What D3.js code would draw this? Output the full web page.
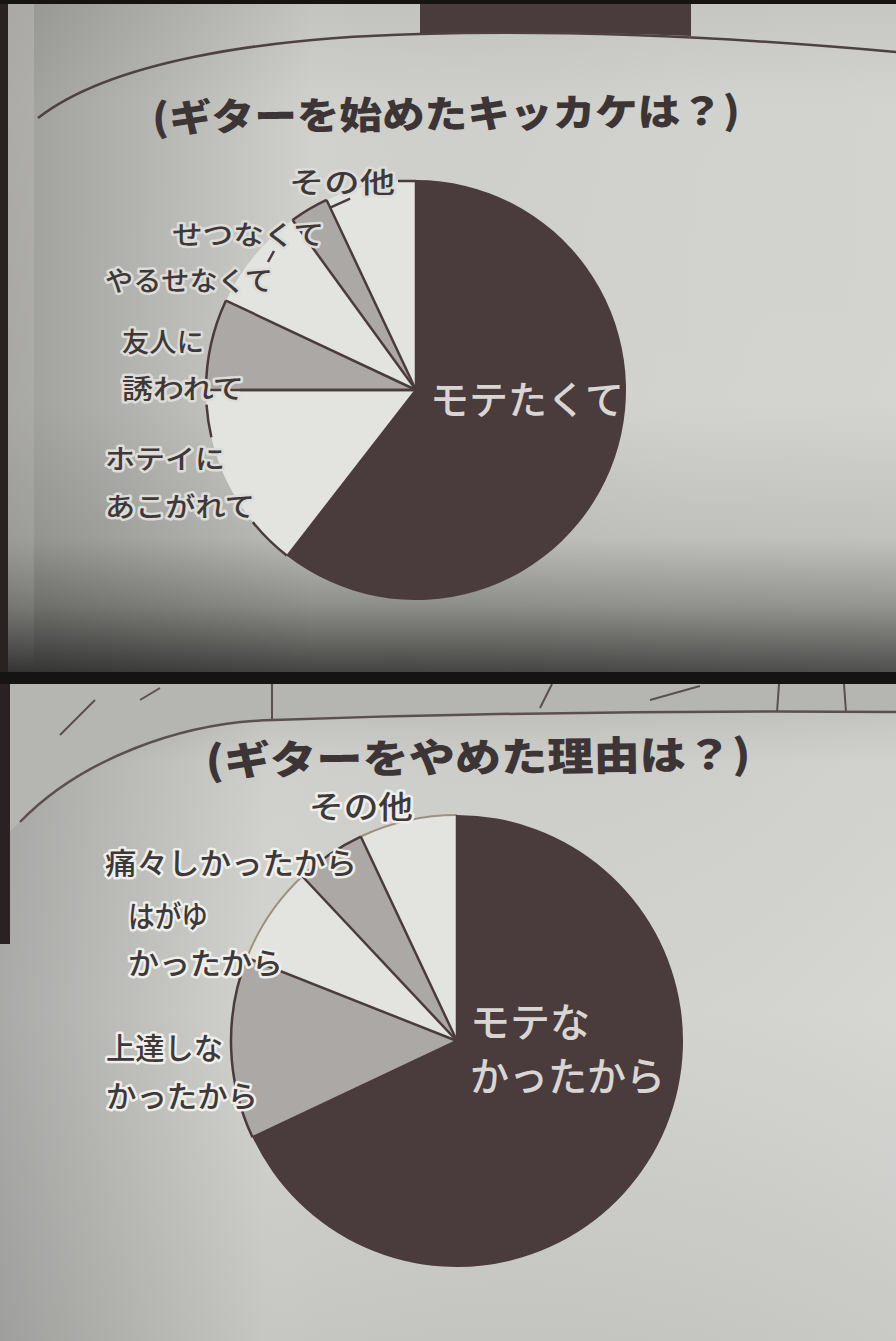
<!DOCTYPE html>
<html><head><meta charset="utf-8">
<script src="https://cdn.jsdelivr.net/npm/d3@7"></script>
<style>html,body{margin:0;padding:0;background:#111;}svg{display:block}</style>
</head><body>
<script>
// ---- data ----
const startTitle = "(ギターを始めたキッカケは？)";
const startCategories = ["モテたくて","ホテイにあこがれて","友人に誘われて","やるせなくて","せつなくて","その他"];
const startValues = [60.5, 14.5, 7, 8, 3, 7];
const startTones = ["dark","light","gray","light","gray","light"];

const quitTitle = "(ギターをやめた理由は？)";
const quitCategories = ["モテなかったから","上達しなかったから","はがゆかったから","痛々しかったから","その他"];
const quitValues = [68, 13, 7, 5, 7];
const quitTones = ["dark","gray","light","gray","light"];

// ---- styles ----
const W = 896, H = 1341;
const FONT = "'Noto Sans CJK JP','Noto Sans',sans-serif";
const fills = {dark:"#4a3b3c", gray:"#aba8a6", light:"#e3e4e0"};
const ink = "#3d3535";

const svg = d3.select("body").append("svg").attr("width",W).attr("height",H);
const defs = svg.append("defs");
function lg(id, x2, y2, stops){
  const g = defs.append("linearGradient").attr("id",id).attr("x1",0).attr("y1",0).attr("x2",x2).attr("y2",y2);
  stops.forEach(s=>g.append("stop").attr("offset",s[0]).attr("stop-color",s[1]).attr("stop-opacity",s[2]===undefined?1:s[2]));
}
lg("topPaper",0,1,[[0,"#c3c3bf"],[0.15,"#d0d0cc"],[0.6,"#d1d1cd"],[0.8,"#bdbdb9"],[0.9,"#8e8e8a"],[1,"#444442"]]);
lg("topSide",1,0,[[0,"#000",0.25],[0.35,"#000",0],[0.75,"#fff",0.03],[1,"#fff",0.06]]);
lg("botPaper",0,1,[[0,"#b9b9b5"],[0.12,"#cfd0cc"],[0.5,"#d4d5d1"],[1,"#c6c7c3"]]);
lg("botSide",1,0,[[0,"#000",0.2],[0.3,"#000",0],[1,"#fff",0.05]]);
lg("edge",0,1,[[0,"#b8b7b3",0.6],[0.8,"#b8b7b3",0.3],[1,"#b8b7b3",0]]);

// ---- photo backgrounds ----
svg.append("rect").attr("width",W).attr("height",H).attr("fill","#151312");
svg.append("rect").attr("x",0).attr("y",4).attr("width",W).attr("height",668).attr("fill","url(#topPaper)");
svg.append("rect").attr("x",0).attr("y",4).attr("width",W).attr("height",668).attr("fill","url(#topSide)");
svg.append("rect").attr("x",0).attr("y",4).attr("width",8).attr("height",668).attr("fill","#2a2121");
svg.append("rect").attr("x",8).attr("y",4).attr("width",26).attr("height",668).attr("fill","url(#edge)");
svg.append("path").attr("d","M420,4 L420,34 Q555,30 691,36 L691,4 Z").attr("fill","#4a3b3c");
svg.append("path").attr("d","M38,118 C110,62 260,38 420,34 C560,30 720,36 896,52")
  .attr("fill","none").attr("stroke","#4d4242").attr("stroke-width",2.5);
svg.append("rect").attr("x",0).attr("y",684).attr("width",W).attr("height",657).attr("fill","url(#botPaper)");
svg.append("rect").attr("x",0).attr("y",684).attr("width",W).attr("height",657).attr("fill","url(#botSide)");
svg.append("path").attr("d","M0,684 L0,840 L20,822 C80,760 180,722 274,720 C450,714 650,710 896,712 L896,684 Z")
  .attr("fill","#b5b5b1");
svg.append("path").attr("d","M20,822 C80,760 180,722 274,720 C450,714 650,710 896,712")
  .attr("fill","none").attr("stroke","#5a5050").attr("stroke-width",2.5);
svg.append("path").attr("d","M272,684 L272,720 M540,708 L552,684 M650,700 L700,686 M777,712 L779,684 M846,712 L844,684 M60,735 L95,700 M140,700 L160,688")
  .attr("fill","none").attr("stroke","#5a5050").attr("stroke-width",2);
svg.append("rect").attr("x",0).attr("y",684).attr("width",10).attr("height",260).attr("fill","#2a2222");

// ---- titles ----
svg.append("text").attr("x",446).attr("y",128).attr("text-anchor","middle")
  .attr("transform","rotate(-0.7 446 118)")
  .attr("font-family",FONT).attr("font-weight",900).attr("font-size",38)
  .attr("fill",ink).attr("textLength",588).attr("lengthAdjust","spacingAndGlyphs").text(startTitle);
svg.append("text").attr("x",478).attr("y",772).attr("text-anchor","middle")
  .attr("transform","rotate(-0.7 478 758)")
  .attr("font-family",FONT).attr("font-weight",900).attr("font-size",40)
  .attr("fill",ink).attr("textLength",545).attr("lengthAdjust","spacingAndGlyphs").text(quitTitle);

// ---- pies ----
const toRad = d=>d*Math.PI/180;
function pt(r,a){return [r*Math.sin(a), -r*Math.cos(a)];}
function arcPath(r,a0,a1){const p=d3.path();const s=pt(r,a0);p.moveTo(s[0],s[1]);p.arc(0,0,r,a0-Math.PI/2,a1-Math.PI/2);return p.toString();}

function drawPie(cfg){
  const data = cfg.cats.map((c,i)=>({c, v:cfg.vals[i], t:cfg.tones[i]}));
  const arcs = d3.pie().sort(null).value(d=>d.v).startAngle(0).endAngle(2*Math.PI)(data);
  const g = svg.append("g").attr("transform",`translate(${cfg.cx},${cfg.cy})`);
  const arcGen = d3.arc().innerRadius(0).outerRadius(cfg.r);
  g.selectAll("path.slice").data(arcs).join("path").attr("class","slice")
    .attr("d",arcGen).attr("fill",d=>fills[d.data.t]);
  if(cfg.lightArc){
    g.selectAll("path.larc").data(arcs.filter(d=>d.data.t==="light")).join("path").attr("class","larc")
      .attr("d",d=>arcPath(cfg.r,d.startAngle,d.endAngle))
      .attr("fill","none").attr("stroke",cfg.lightArc).attr("stroke-width",2);
  }
  g.selectAll("path.garc").data(arcs.filter(d=>d.data.t==="gray")).join("path").attr("class","garc")
    .attr("d",d=>arcPath(cfg.r,d.startAngle,d.endAngle))
    .attr("fill","none").attr("stroke",fills.dark).attr("stroke-width",2.5);
  g.selectAll("line.rad").data(arcs).join("line").attr("class","rad")
    .attr("x1",0).attr("y1",0)
    .attr("x2",d=>pt(cfg.r,d.startAngle)[0]).attr("y2",d=>pt(cfg.r,d.startAngle)[1])
    .attr("stroke",fills.dark).attr("stroke-width",2.5);
  return {g, arcs};
}

function label(g, lines, widths, x, y, size, lh, color, halo, anchor){
  const t = g.append("g").attr("font-family",FONT).attr("font-weight",500).attr("font-size",size)
    .attr("fill",color).attr("text-anchor",anchor||"start");
  lines.forEach((l,i)=>{
    const tx = t.append("text").attr("x",x).attr("y",y+i*lh).text(l);
    if(widths && widths[i]) tx.attr("textLength",widths[i]).attr("lengthAdjust","spacingAndGlyphs");
    if(halo){tx.attr("stroke",halo).attr("stroke-width",5).attr("stroke-linejoin","round").attr("paint-order","stroke");}
  });
}

const TR = 210;
const topPie = drawPie({cats:startCategories, vals:startValues, tones:startTones, cx:416, cy:390, r:TR, lightArc:null});
{
  const g = topPie.g, r = TR, a = topPie.arcs;
  g.append("path").attr("d",arcPath(r,toRad(218),toRad(231))).attr("fill","none").attr("stroke",fills.dark).attr("stroke-width",2.5);
  g.append("path").attr("d",arcPath(r,toRad(257),toRad(266))).attr("fill","none").attr("stroke",fills.dark).attr("stroke-width",2.5);
  g.append("line").attr("x1",-18).attr("y1",-r+1).attr("x2",0).attr("y2",-r+1).attr("stroke",fills.dark).attr("stroke-width",2.5);
  g.append("line").attr("x1",0).attr("y1",0).attr("x2",-176).attr("y2",0).attr("stroke",fills.dark).attr("stroke-width",2.5);
  const p1 = pt(r*0.96, a[4].endAngle);
  g.append("line").attr("x1",p1[0]).attr("y1",p1[1]).attr("x2",p1[0]+20).attr("y2",p1[1]-9).attr("stroke",fills.dark).attr("stroke-width",2.5);
  g.append("line").attr("x1",-148).attr("y1",-128).attr("x2",-142).attr("y2",-139).attr("stroke",fills.dark).attr("stroke-width",2.5);
}
{
  const tg = svg.append("g");
  const c = "#3f3838", halo = "#dcdcd8";
  label(tg,["その他"],[106],289,193,28,0,c,halo);
  label(tg,["せつなくて"],[152],172,245,27,0,c,halo);
  label(tg,["やるせなくて"],[168],105,291,27,0,c,halo);
  label(tg,["友人に","誘われて"],[82,122],122,352,27,47,c,halo);
  label(tg,["ホテイに","あこがれて"],[120,150],105,469,27,48,c,halo);
  label(tg,["モテたくて"],null,527,414,39,0,"#d9d5d2",null,"middle");
}

const botPie = drawPie({cats:quitCategories, vals:quitValues, tones:quitTones, cx:457, cy:1041, r:226, lightArc:"#9c9282"});
{
  const tg = svg.append("g");
  const c = "#3f3838", halo = "#eeeeea";
  label(tg,["その他"],[104],309,818,31,0,c,halo);
  label(tg,["痛々しかったから"],[252],105,874,30,0,c,halo);
  label(tg,["はがゆ","かったから"],[80,155],128,927,30,47,c,halo);
  label(tg,["上達しな","かったから"],[117,152],106,1059,30,48,c,halo);
  label(tg,["モテな","かったから"],[120,195],470,1037,40,54,"#d9d5d2",null);
}

svg.append("rect").attr("x",0).attr("y",672).attr("width",W).attr("height",12).attr("fill","#161413");
svg.append("rect").attr("x",0).attr("y",0).attr("width",W).attr("height",4).attr("fill","#161413");
</script>
</body></html>
